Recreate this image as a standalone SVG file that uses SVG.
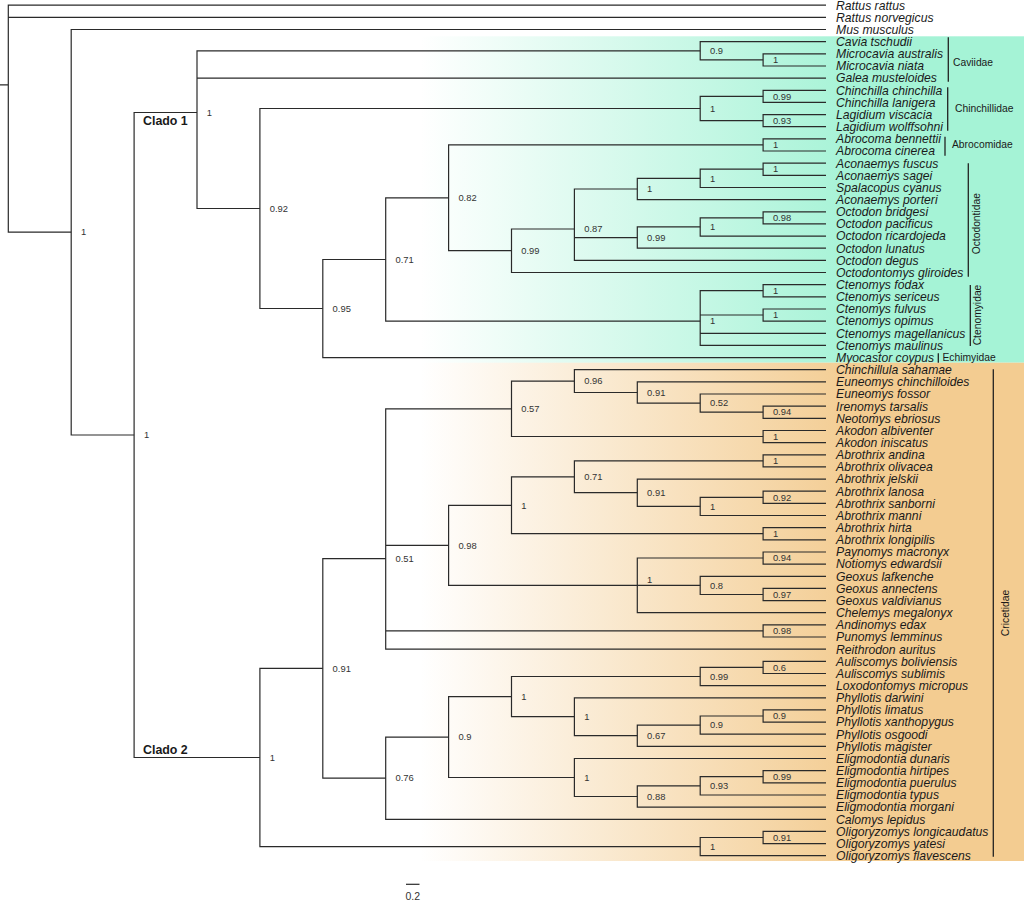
<svg xmlns="http://www.w3.org/2000/svg" width="1024" height="904" viewBox="0 0 1024 904">
<defs>
<linearGradient id="gGreen" gradientUnits="userSpaceOnUse" x1="420" y1="0" x2="860" y2="0">
<stop offset="0" stop-color="#a5f3d6" stop-opacity="0"/>
<stop offset="1" stop-color="#a5f3d6" stop-opacity="1"/>
</linearGradient>
<linearGradient id="gOrange" gradientUnits="userSpaceOnUse" x1="420" y1="0" x2="860" y2="0">
<stop offset="0" stop-color="#f3cc91" stop-opacity="0"/>
<stop offset="1" stop-color="#f3cc91" stop-opacity="1"/>
</linearGradient>
<style>
.br{fill:none;stroke:#2a2a2a;stroke-width:1.2}
.bk{fill:none;stroke:#222;stroke-width:1.3}
.tip{font-family:"Liberation Sans",Arial,sans-serif;font-style:italic;font-size:12.2px;fill:#1a1a1a}
.sup{font-family:"Liberation Sans",Arial,sans-serif;font-size:9.4px;fill:#333}
.fam{font-family:"Liberation Sans",Arial,sans-serif;font-size:10.3px;fill:#1a1a1a}
.clado{font-family:"Liberation Sans",Arial,sans-serif;font-size:12.4px;font-weight:bold;fill:#1a1a1a}
.scl{font-family:"Liberation Sans",Arial,sans-serif;font-size:10.5px;fill:#333}
</style>
</defs>
<rect width="1024" height="904" fill="#fff"/>
<g id="backgrounds">
<rect x="0" y="36.3" width="1024" height="326.4" fill="url(#gGreen)"/>
<rect x="0" y="362.7" width="1024" height="498.3" fill="url(#gOrange)"/>
</g>
<g id="branches">
<path class="br" d="M0 84.9H8.3M826 5.2H8.3V232.2H71.2M8.3 17.4H826"/>
<path class="br" d="M826 29.5H71.2V435H134.1"/>
<path class="br" d="M197 112.5H134.1V757.5H259.9"/>
<path class="br" d="M700.2 50.8H197V208.5H259.9M197 78.1H826"/>
<path class="br" d="M826 41.7H700.2V59.9H763.1"/>
<path class="br" d="M826 53.8H763.1V66H826"/>
<path class="br" d="M700.2 108.5H259.9V308.5H322.8"/>
<path class="br" d="M763.1 96.3H700.2V120.6H763.1"/>
<path class="br" d="M826 90.3H763.1V102.4H826"/>
<path class="br" d="M826 114.6H763.1V126.7H826"/>
<path class="br" d="M385.7 259.5H322.8V357.6H826"/>
<path class="br" d="M448.6 197.8H385.7V321.1H700.2"/>
<path class="br" d="M763.1 144.9H448.6V250.7H511.5"/>
<path class="br" d="M826 138.9H763.1V151H826"/>
<path class="br" d="M574.4 229H511.5V272.5H826"/>
<path class="br" d="M637.3 189H574.4V260.4H826M574.4 237.6H637.3"/>
<path class="br" d="M700.2 178.3H637.3V199.6H826"/>
<path class="br" d="M763.1 169.2H700.2V187.5H826"/>
<path class="br" d="M826 163.2H763.1V175.3H826"/>
<path class="br" d="M700.2 226.9H637.3V248.2H826"/>
<path class="br" d="M763.1 217.8H700.2V236.1H826"/>
<path class="br" d="M826 211.8H763.1V223.9H826"/>
<path class="br" d="M763.1 290.7H700.2V345.4H826M700.2 315H763.1M700.2 333.3H826"/>
<path class="br" d="M826 284.7H763.1V296.8H826"/>
<path class="br" d="M826 309H763.1V321.1H826"/>
<path class="br" d="M322.8 668.4H259.9V846.6H700.2"/>
<path class="br" d="M385.7 558.6H322.8V778.2H385.7"/>
<path class="br" d="M511.5 408.8H385.7V649.2H826M385.7 545.3H448.6M385.7 630.9H763.1"/>
<path class="br" d="M574.4 381.1H511.5V436.5H763.1"/>
<path class="br" d="M826 369.7H574.4V392.5H637.3"/>
<path class="br" d="M826 381.9H637.3V403.1H700.2"/>
<path class="br" d="M826 394H700.2V412.2H763.1"/>
<path class="br" d="M826 406.2H763.1V418.3H826"/>
<path class="br" d="M826 430.5H763.1V442.6H826"/>
<path class="br" d="M511.5 505.3H448.6V585.4H637.3"/>
<path class="br" d="M574.4 476.8H511.5V533.7H763.1"/>
<path class="br" d="M763.1 460.8H574.4V492.7H637.3"/>
<path class="br" d="M826 454.8H763.1V466.9H826"/>
<path class="br" d="M826 479.1H637.3V506.4H700.2"/>
<path class="br" d="M763.1 497.3H700.2V515.5H826"/>
<path class="br" d="M826 491.2H763.1V503.4H826"/>
<path class="br" d="M826 527.7H763.1V539.8H826"/>
<path class="br" d="M763.1 558H637.3V612.7H826M637.3 585.4H700.2"/>
<path class="br" d="M826 552H763.1V564.1H826"/>
<path class="br" d="M826 576.3H700.2V594.5H763.1"/>
<path class="br" d="M826 588.4H763.1V600.6H826"/>
<path class="br" d="M826 624.9H763.1V637H826"/>
<path class="br" d="M448.6 737.1H385.7V819.3H826"/>
<path class="br" d="M511.5 696.6H448.6V777.5H574.4"/>
<path class="br" d="M700.2 676.5H511.5V716.7H574.4"/>
<path class="br" d="M763.1 667.4H700.2V685.6H826"/>
<path class="br" d="M826 661.3H763.1V673.5H826"/>
<path class="br" d="M826 697.8H574.4V735.7H637.3"/>
<path class="br" d="M700.2 725.1H637.3V746.4H826"/>
<path class="br" d="M763.1 716H700.2V734.2H826"/>
<path class="br" d="M826 709.9H763.1V722.1H826"/>
<path class="br" d="M826 758.5H574.4V796.5H637.3"/>
<path class="br" d="M700.2 785.8H637.3V807.1H826"/>
<path class="br" d="M763.1 776.7H700.2V795H826"/>
<path class="br" d="M826 770.7H763.1V782.8H826"/>
<path class="br" d="M763.1 837.5H700.2V855.7H826"/>
<path class="br" d="M826 831.4H763.1V843.6H826"/>
</g>
<g id="support-labels" class="sup">
<text id="n-A" x="81" y="235.4">1</text>
<text id="n-B" x="143.9" y="438.2">1</text>
<text id="n-clado1" x="206.8" y="115.7">1</text>
<text id="n-cav11" x="710" y="54">0.9</text>
<text id="n-cav12" x="772.9" y="63.1">1</text>
<text id="n-chin11" x="710" y="111.7">1</text>
<text id="n-chin12a" x="772.9" y="99.5">0.99</text>
<text id="n-chin12b" x="772.9" y="123.8">0.93</text>
<text id="n-D" x="269.7" y="211.7">0.92</text>
<text id="n-E" x="332.6" y="311.7">0.95</text>
<text id="n-F" x="395.5" y="262.7">0.71</text>
<text id="n-G" x="458.4" y="201">0.82</text>
<text id="n-abro" x="772.9" y="148.1">1</text>
<text id="n-H" x="521.3" y="253.9">0.99</text>
<text id="n-I" x="584.2" y="232.2">0.87</text>
<text id="n-J" x="647.1" y="192.2">1</text>
<text id="n-L" x="710" y="181.5">1</text>
<text id="n-acon" x="772.9" y="172.4">1</text>
<text id="n-K" x="647.1" y="240.8">0.99</text>
<text id="n-M" x="710" y="230.1">1</text>
<text id="n-oct" x="772.9" y="221">0.98</text>
<text id="n-cten11" x="710" y="324.3">1</text>
<text id="n-cten12a" x="772.9" y="293.9">1</text>
<text id="n-cten12b" x="772.9" y="318.2">1</text>
<text id="n-clado2" x="269.7" y="760.7">1</text>
<text id="n-O" x="332.6" y="671.6">0.91</text>
<text id="n-P" x="395.5" y="561.8">0.51</text>
<text id="n-W" x="521.3" y="412">0.57</text>
<text id="n-V" x="584.2" y="384.3">0.96</text>
<text id="n-U" x="647.1" y="395.7">0.91</text>
<text id="n-T" x="710" y="406.3">0.52</text>
<text id="n-S" x="772.9" y="415.4">0.94</text>
<text id="n-ak" x="772.9" y="439.7">1</text>
<text id="n-AB" x="458.4" y="548.5">0.98</text>
<text id="n-AA" x="521.3" y="508.5">1</text>
<text id="n-Z" x="584.2" y="480">0.71</text>
<text id="n-AO" x="772.9" y="464">1</text>
<text id="n-Y" x="647.1" y="495.9">0.91</text>
<text id="n-X" x="710" y="509.6">1</text>
<text id="n-LS" x="772.9" y="500.5">0.92</text>
<text id="n-HL" x="772.9" y="536.9">1</text>
<text id="n-GE" x="647.1" y="583.4">1</text>
<text id="n-PN" x="772.9" y="561.2">0.94</text>
<text id="n-G11" x="710" y="588.6">0.8</text>
<text id="n-GV" x="772.9" y="597.7">0.97</text>
<text id="n-AP" x="772.9" y="634.1">0.98</text>
<text id="n-Q" x="395.5" y="781.4">0.76</text>
<text id="n-CC" x="458.4" y="740.3">0.9</text>
<text id="n-BB" x="521.3" y="699.8">1</text>
<text id="n-au11" x="710" y="679.7">0.99</text>
<text id="n-au12" x="772.9" y="670.6">0.6</text>
<text id="n-ph9" x="584.2" y="719.9">1</text>
<text id="n-ph10" x="647.1" y="738.9">0.67</text>
<text id="n-ph11" x="710" y="728.3">0.9</text>
<text id="n-ph12" x="772.9" y="719.2">0.9</text>
<text id="n-el9" x="584.2" y="780.7">1</text>
<text id="n-el10" x="647.1" y="799.7">0.88</text>
<text id="n-el11" x="710" y="789">0.93</text>
<text id="n-el12" x="772.9" y="779.9">0.99</text>
<text id="n-ol11" x="710" y="849.8">1</text>
<text id="n-ol12" x="772.9" y="840.7">0.91</text>
</g>
<g id="clade-labels" class="clado">
<text id="clado-1" x="143" y="125">Clado 1</text>
<text id="clado-2" x="143" y="754">Clado 2</text>
</g>
<g id="tips" class="tip">
<text id="t00" x="836" y="9.5">Rattus rattus</text>
<text id="t01" x="836" y="21.7">Rattus norvegicus</text>
<text id="t02" x="836" y="33.8">Mus musculus</text>
<text id="t03" x="836" y="46">Cavia tschudii</text>
<text id="t04" x="836" y="58.1">Microcavia australis</text>
<text id="t05" x="836" y="70.3">Microcavia niata</text>
<text id="t06" x="836" y="82.4">Galea musteloides</text>
<text id="t07" x="836" y="94.6">Chinchilla chinchilla</text>
<text id="t08" x="836" y="106.7">Chinchilla lanigera</text>
<text id="t09" x="836" y="118.9">Lagidium viscacia</text>
<text id="t10" x="836" y="131">Lagidium wolffsohni</text>
<text id="t11" x="836" y="143.2">Abrocoma bennettii</text>
<text id="t12" x="836" y="155.3">Abrocoma cinerea</text>
<text id="t13" x="836" y="167.5">Aconaemys fuscus</text>
<text id="t14" x="836" y="179.6">Aconaemys sagei</text>
<text id="t15" x="836" y="191.8">Spalacopus cyanus</text>
<text id="t16" x="836" y="203.9">Aconaemys porteri</text>
<text id="t17" x="836" y="216.1">Octodon bridgesi</text>
<text id="t18" x="836" y="228.2">Octodon pacificus</text>
<text id="t19" x="836" y="240.4">Octodon ricardojeda</text>
<text id="t20" x="836" y="252.5">Octodon lunatus</text>
<text id="t21" x="836" y="264.7">Octodon degus</text>
<text id="t22" x="836" y="276.8">Octodontomys gliroides</text>
<text id="t23" x="836" y="289">Ctenomys fodax</text>
<text id="t24" x="836" y="301.1">Ctenomys sericeus</text>
<text id="t25" x="836" y="313.3">Ctenomys fulvus</text>
<text id="t26" x="836" y="325.4">Ctenomys opimus</text>
<text id="t27" x="836" y="337.6">Ctenomys magellanicus</text>
<text id="t28" x="836" y="349.7">Ctenomys maulinus</text>
<text id="t29" x="836" y="361.9">Myocastor coypus</text>
<text id="t30" x="836" y="374">Chinchillula sahamae</text>
<text id="t31" x="836" y="386.2">Euneomys chinchilloides</text>
<text id="t32" x="836" y="398.3">Euneomys fossor</text>
<text id="t33" x="836" y="410.5">Irenomys tarsalis</text>
<text id="t34" x="836" y="422.6">Neotomys ebriosus</text>
<text id="t35" x="836" y="434.8">Akodon albiventer</text>
<text id="t36" x="836" y="446.9">Akodon iniscatus</text>
<text id="t37" x="836" y="459.1">Abrothrix andina</text>
<text id="t38" x="836" y="471.2">Abrothrix olivacea</text>
<text id="t39" x="836" y="483.4">Abrothrix jelskii</text>
<text id="t40" x="836" y="495.5">Abrothrix lanosa</text>
<text id="t41" x="836" y="507.7">Abrothrix sanborni</text>
<text id="t42" x="836" y="519.8">Abrothrix manni</text>
<text id="t43" x="836" y="532">Abrothrix hirta</text>
<text id="t44" x="836" y="544.1">Abrothrix longipilis</text>
<text id="t45" x="836" y="556.3">Paynomys macronyx</text>
<text id="t46" x="836" y="568.4">Notiomys edwardsii</text>
<text id="t47" x="836" y="580.6">Geoxus lafkenche</text>
<text id="t48" x="836" y="592.7">Geoxus annectens</text>
<text id="t49" x="836" y="604.9">Geoxus valdivianus</text>
<text id="t50" x="836" y="617">Chelemys megalonyx</text>
<text id="t51" x="836" y="629.2">Andinomys edax</text>
<text id="t52" x="836" y="641.3">Punomys lemminus</text>
<text id="t53" x="836" y="653.5">Reithrodon auritus</text>
<text id="t54" x="836" y="665.6">Auliscomys boliviensis</text>
<text id="t55" x="836" y="677.8">Auliscomys sublimis</text>
<text id="t56" x="836" y="689.9">Loxodontomys micropus</text>
<text id="t57" x="836" y="702.1">Phyllotis darwini</text>
<text id="t58" x="836" y="714.2">Phyllotis limatus</text>
<text id="t59" x="836" y="726.4">Phyllotis xanthopygus</text>
<text id="t60" x="836" y="738.5">Phyllotis osgoodi</text>
<text id="t61" x="836" y="750.7">Phyllotis magister</text>
<text id="t62" x="836" y="762.8">Eligmodontia dunaris</text>
<text id="t63" x="836" y="775">Eligmodontia hirtipes</text>
<text id="t64" x="836" y="787.1">Eligmodontia puerulus</text>
<text id="t65" x="836" y="799.3">Eligmodontia typus</text>
<text id="t66" x="836" y="811.4">Eligmodontia morgani</text>
<text id="t67" x="836" y="823.6">Calomys lepidus</text>
<text id="t68" x="836" y="835.7">Oligoryzomys longicaudatus</text>
<text id="t69" x="836" y="847.9">Oligoryzomys yatesi</text>
<text id="t70" x="836" y="860">Oligoryzomys flavescens</text>
</g>
<g id="families">
<g id="fam-caviidae"><path class="bk" d="M948.3 37.3V81.7"/><text class="fam" x="953" y="66">Caviidae</text></g>
<g id="fam-chinchillidae"><path class="bk" d="M947.7 87.3V130.7"/><text class="fam" x="955" y="112">Chinchillidae</text></g>
<g id="fam-abrocomidae"><path class="bk" d="M945 136.7V155.7"/><text class="fam" x="952" y="147.7">Abrocomidae</text></g>
<g id="fam-octodontidae"><path class="bk" d="M968.3 163.3V276.7"/><text class="fam" text-anchor="middle" transform="translate(979.5 223.7) rotate(-90)">Octodontidae</text></g>
<g id="fam-ctenomyidae"><path class="bk" d="M970.3 285V346"/><text class="fam" text-anchor="middle" transform="translate(981 315) rotate(-90)">Ctenomyidae</text></g>
<g id="fam-echimyidae"><path class="bk" d="M938.3 353.3V362.7"/><text class="fam" x="942.5" y="361">Echimyidae</text></g>
<g id="fam-cricetidae"><path class="bk" d="M993.3 369.3V856.7"/><text class="fam" text-anchor="middle" transform="translate(1009 613) rotate(-90)">Cricetidae</text></g>
</g>
<g id="scale">
<path class="br" d="M406 884.3H419.5"/>
<text class="scl" x="412.8" y="899.8" text-anchor="middle">0.2</text>
</g>
</svg>
